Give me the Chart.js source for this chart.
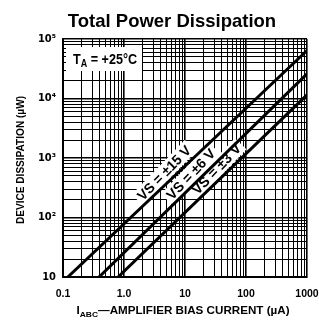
<!DOCTYPE html>
<html lang="en">
<head>
<meta charset="UTF-8">
<title>Total Power Dissipation</title>
<script src="https://cdn.jsdelivr.net/npm/chart.js"></script>
<style>
  body { margin: 0; background: #fff; }
  canvas { display: block; }
</style>
</head>
<body>
<canvas id="chart" width="319" height="327"></canvas>
<script>
// bias current (uA) vs device dissipation (uW)
const current15 = [0.12, 1000];
const power15 = [10, 64000];
const current6 = [0.39, 1000];
const power6 = [10, 26000];
const current3 = [0.8, 1000];
const power3 = [10, 11500];

const seriesNames = ['VS = \u00b115 V', 'VS = \u00b16 V', 'VS = \u00b13 V'];
const xTickLabels = ['0.1', '1.0', '10', '100', '1000'];
const yTickLabels = ['10', '10\u00b2', '10\u00b3', '10\u2074', '10\u2075'];

const FONT = '"Liberation Sans", Arial, sans-serif';

function pairs(xs, ys) {
    return xs.map((x, i) => ({ x: x, y: ys[i] }));
}

// 1,2,...9 per decade between min and max
function logTicks(min, max) {
    let out = [];
    let e0 = Math.round(Math.log10(min));
    let e1 = Math.round(Math.log10(max));
    for (let e = e0; e < e1; e++) {
        for (let m = 1; m < 10; m++) out.push({ value: m * Math.pow(10, e) });
    }
    out.push({ value: max });
    return out;
}

function isDecade(v) {
    let l = Math.log10(v);
    return Math.abs(l - Math.round(l)) < 1e-6;
}

// draw a run of [text, font, dy] pieces squeezed to a given width
function drawRuns(c, runs, x, y, width) {
    let total = 0;
    runs.forEach(r => { c.font = r[1]; total += c.measureText(r[0]).width; });
    const sx = width ? width / total : 1;
    c.save();
    c.translate(x, y);
    c.scale(sx, 1);
    let px = 0;
    runs.forEach(r => {
        c.font = r[1];
        c.fillText(r[0], px, r[2] || 0);
        px += c.measureText(r[0]).width;
    });
    c.restore();
    return total * sx;
}

const decorations = {
    id: 'decorations',
    beforeDatasetsDraw(chart) {
        const c = chart.ctx;
        const area = chart.chartArea;
        const xs = chart.scales.x;

        // labels beside each line, drawn under the lines
        const anchors = [5.8, 16, 42];
        const lengths = [70, 64, 64];
        c.save();
        c.textBaseline = 'middle';
        chart.data.datasets.forEach((ds, i) => {
            const pts = chart.getDatasetMeta(i).data;
            const p0 = pts[0], p1 = pts[pts.length - 1];
            const a = Math.atan2(p1.y - p0.y, p1.x - p0.x);
            const ax = xs.getPixelForValue(anchors[i]);
            const t = (ax - p0.x) / (p1.x - p0.x);
            const ay = p0.y + t * (p1.y - p0.y);
            const off = 9.5;
            const cx = ax + Math.sin(a) * off;
            const cy = ay - Math.cos(a) * off;
            const w = lengths[i];
            c.save();
            c.translate(cx, cy);
            c.rotate(a - 0.04);
            c.fillStyle = '#fff';
            c.fillRect(-w / 2 - 3, -8, w + 6, 16);
            c.fillStyle = '#000';
            drawRuns(c, [[seriesNames[i], 'bold 14px ' + FONT, 1]], -w / 2, 0, w);
            c.restore();
        });
        c.restore();

        // TA = +25 C box
        c.save();
        c.fillStyle = '#fff';
        c.fillRect(area.left + 3, area.top + 8, 76, 24);
        c.fillStyle = '#000';
        c.textBaseline = 'alphabetic';
        drawRuns(c, [
            ['T', 'bold 14px ' + FONT],
            ['A', 'bold 10px ' + FONT, 3],
            [' = +25\u00b0C', 'bold 14px ' + FONT]
        ], area.left + 10, area.top + 25, 64);
        c.restore();
    },
    afterDraw(chart) {
        const c = chart.ctx;
        const area = chart.chartArea;
        c.save();
        c.fillStyle = '#000';
        c.textBaseline = 'alphabetic';
        // title
        c.font = 'bold 18.5px ' + FONT;
        c.textAlign = 'center';
        c.fillText('Total Power Dissipation', 172, 27);

        // x axis title with subscript
        c.textAlign = 'left';
        const xw = 213;
        drawRuns(c, [
            ['I', 'bold 11px ' + FONT],
            ['ABC', 'bold 8px ' + FONT, 3],
            ['\u2014AMPLIFIER BIAS CURRENT (\u00b5A)', 'bold 11px ' + FONT]
        ], (area.left + area.right) / 2 - 2 - xw / 2, 314, xw);

        // y axis title
        const yw = 128;
        c.translate(24, (area.top + area.bottom) / 2 + 2 + yw / 2);
        c.rotate(-Math.PI / 2);
        drawRuns(c, [['DEVICE DISSIPATION (\u00b5W)', 'bold 10px ' + FONT]], 0, 0, yw);
        c.restore();
    }
};

const gridStyle = {
    color: '#000',
    lineWidth: (ctx) => (ctx.tick && isDecade(ctx.tick.value)) ? 1.6 : 1,
    drawTicks: false
};

new Chart(document.getElementById('chart'), {
    type: 'line',
    data: {
        datasets: [
            { label: seriesNames[0], data: pairs(current15, power15) },
            { label: seriesNames[1], data: pairs(current6, power6) },
            { label: seriesNames[2], data: pairs(current3, power3) }
        ]
    },
    options: {
        responsive: false,
        animation: false,
        layout: { padding: { top: 39, right: 12, left: 0, bottom: 0 } },
        elements: {
            line: { borderColor: '#000', borderWidth: 3, tension: 0 },
            point: { radius: 0 }
        },
        plugins: {
            legend: { display: false },
            tooltip: { enabled: false }
        },
        scales: {
            x: {
                type: 'logarithmic',
                min: 0.1,
                max: 1000,
                grid: gridStyle,
                border: { color: '#000', width: 2 },
                afterBuildTicks: (s) => { s.ticks = logTicks(0.1, 1000); },
                afterFit: (s) => { s.height = 50; s.paddingLeft = 0; s.paddingRight = 0; },
                ticks: {
                    autoSkip: false,
                    maxRotation: 0,
                    padding: 11,
                    color: '#000',
                    font: { family: FONT, size: 10.5, weight: 'bold' },
                    callback: (v) => isDecade(v) ? xTickLabels[Math.round(Math.log10(v)) + 1] : ''
                }
            },
            y: {
                type: 'logarithmic',
                min: 10,
                max: 100000,
                grid: gridStyle,
                border: { color: '#000', width: 2 },
                afterBuildTicks: (s) => { s.ticks = logTicks(10, 100000); },
                afterFit: (s) => { s.width = 63; s.paddingTop = 0; s.paddingBottom = 0; },
                ticks: {
                    autoSkip: false,
                    padding: 7,
                    color: '#000',
                    font: { family: '"DejaVu Sans Condensed", "DejaVu Sans", sans-serif', size: 11, weight: 'bold' },
                    callback: (v) => isDecade(v) ? yTickLabels[Math.round(Math.log10(v)) - 1] : ''
                }
            }
        }
    },
    plugins: [decorations]
});
</script>
</body>
</html>
